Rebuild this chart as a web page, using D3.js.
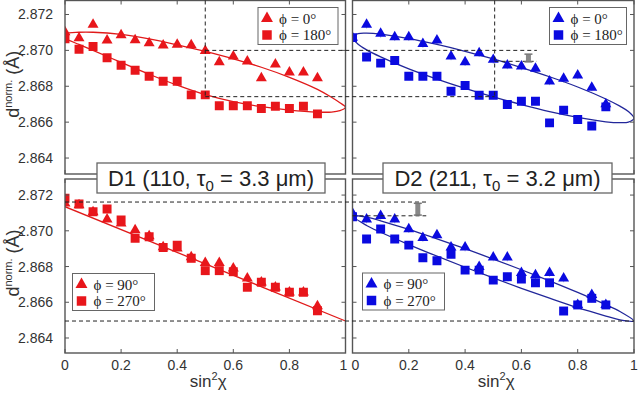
<!DOCTYPE html>
<html><head><meta charset="utf-8">
<script src="https://cdn.jsdelivr.net/npm/d3@7"></script>
<style>body{margin:0;background:#fff}svg{display:block}</style>
</head><body><svg id="c" width="640" height="393"></svg>
<script>
// ---------- data ----------
const sinTicks = [0, 0.2, 0.4, 0.6, 0.8, 1];
const sinTickLabels = ["0", "0.2", "0.4", "0.6", "0.8", "1"];
const dTicks = [2.864, 2.866, 2.868, 2.870, 2.872];
const dTickLabels = ["2.864", "2.866", "2.868", "2.870", "2.872"];
const sin2 = [0,0.05,0.1,0.15,0.2,0.25,0.3,0.35,0.4,0.45,0.5,0.55,0.6,0.65,0.7,0.75,0.8,0.85,0.9];

const D1_phi0   = [2.87102,2.87068,2.87144,2.87056,2.87085,2.87057,2.87041,2.87028,2.87032,2.87030,2.86998,2.86935,2.86967,2.86939,2.86846,2.86922,2.86878,2.86878,2.86846];
const D1_phi180 = [2.87065,2.87006,2.87022,2.86959,2.86917,2.86889,2.86856,2.86828,2.86828,2.86752,2.86752,2.86691,2.86691,2.86691,2.86676,2.86689,2.86676,2.86689,2.86646];
const D2_phi0   = [2.87071,2.87144,2.87093,2.87074,2.87074,2.87037,2.87056,2.86967,2.86935,2.86985,2.86948,2.86917,2.86911,2.86898,2.86828,2.86843,2.86861,2.86793,2.86700];
const D2_phi180 = [2.87071,2.86963,2.86929,2.86944,2.86856,2.86856,2.86856,2.86772,2.86804,2.86750,2.86750,2.86698,2.86717,2.86717,2.86596,2.86667,2.86615,2.86578,2.86685];
const D1_phi90  = [2.87154,2.87144,2.87105,2.87064,2.87042,2.87004,2.86971,2.86909,2.86902,2.86853,2.86821,2.86821,2.86790,2.86734,2.86712,2.86684,2.86656,2.86656,2.86579];
const D1_phi270 = [2.87182,2.87150,2.87107,2.87122,2.87060,2.86958,2.86967,2.86907,2.86920,2.86846,2.86777,2.86777,2.86771,2.86684,2.86712,2.86684,2.86656,2.86656,2.86553];
const D2_phi90  = [2.87098,2.87064,2.87084,2.87064,2.87010,2.86961,2.86976,2.86907,2.86907,2.86799,2.86851,2.86851,2.86765,2.86752,2.86765,2.86734,2.86585,2.86641,2.86585];
const D2_phi270 = [2.87079,2.86954,2.87010,2.86954,2.86920,2.86849,2.86832,2.86868,2.86780,2.86780,2.86724,2.86743,2.86730,2.86709,2.86709,2.86551,2.86585,2.86622,2.86585];

// fitted curves, [sin2chi, d]
const D1_fit_0_180 = [[-0.01,2.87081],[0,2.87094],[0.05,2.87101],[0.1,2.87101],[0.2,2.87089],[0.3,2.87064],[0.4,2.87031],[0.5,2.86994],[0.6,2.86953],[0.7,2.86906],[0.8,2.86850],[0.9,2.86783],[0.95,2.86739],[0.98,2.86708],[1.0,2.86683],
  [0.98,2.86664],[0.95,2.86656],[0.9,2.86656],[0.8,2.86667],[0.7,2.86686],[0.6,2.86714],[0.5,2.86753],[0.4,2.86806],[0.3,2.86867],[0.2,2.86933],[0.1,2.87000],[0.05,2.87033],[0,2.87067]];
const D2_fit_0_180 = [[0,2.87072],[0.02,2.87093],[0.05,2.87096],[0.1,2.87091],[0.2,2.87066],[0.3,2.87033],[0.4,2.86995],[0.5,2.86952],[0.6,2.86904],[0.7,2.86853],[0.8,2.86796],[0.9,2.86729],[0.95,2.86689],[0.98,2.86659],[1.0,2.86621],
  [0.98,2.86600],[0.95,2.86597],[0.9,2.86602],[0.8,2.86627],[0.7,2.86659],[0.6,2.86698],[0.5,2.86741],[0.4,2.86788],[0.3,2.86840],[0.2,2.86897],[0.1,2.86964],[0.05,2.87003],[0.02,2.87034]];
const D1_fit_90_270 = [[0,2.87135],[1,2.86495]];
const D2_fit_90_270 = [[0,2.87083],[0.05,2.87076],[0.1,2.87056],[0.2,2.87008],[0.3,2.86955],[0.4,2.86900],[0.5,2.86842],[0.6,2.86782],[0.7,2.86720],[0.8,2.86655],[0.9,2.86586],[0.95,2.86548],[1.0,2.86495],
  [0.95,2.86501],[0.9,2.86523],[0.8,2.86570],[0.7,2.86623],[0.6,2.86678],[0.5,2.86736],[0.4,2.86796],[0.3,2.86858],[0.2,2.86923],[0.1,2.86992],[0.05,2.87030]];

// ---------- layout ----------
const svg = d3.select("#c");
const cols = [[65, 345.5], [352.5, 634]];
const rows = [{r:[174, 0.5], dom:[2.86311, 2.87278]}, {r:[353, 179], dom:[2.86316, 2.8729]}];
const xs = cols.map(c => d3.scaleLinear().domain([0, 1]).range(c));
const ys = rows.map(r => d3.scaleLinear().domain(r.dom).range(r.r));
const RED = "#e8161b", REDL = "#e01a1a", BLUE = "#0a0ae0", BLUEL = "#22279a";
const sans = "'Liberation Sans Narrow','Liberation Sans',Arial,sans-serif";
const serif = "'Liberation Serif','DejaVu Serif',serif";

const panels = [
  {c:0, r:0, a:D1_phi0, b:D1_phi180, fit:D1_fit_0_180, closed:true, col:RED, lcol:REDL, leg:["0°","180°"], legPos:[258,7.5], eb:false},
  {c:1, r:0, a:D2_phi0, b:D2_phi180, fit:D2_fit_0_180, closed:true, col:BLUE, lcol:BLUEL, leg:["0°","180°"], legPos:[549.5,7.5], eb:true},
  {c:0, r:1, a:D1_phi90, b:D1_phi270, fit:D1_fit_90_270, closed:false, col:RED, lcol:REDL, leg:["90°","270°"], legPos:[72.5,273.5], eb:false},
  {c:1, r:1, a:D2_phi90, b:D2_phi270, fit:D2_fit_90_270, closed:true, col:BLUE, lcol:BLUEL, leg:["90°","270°"], legPos:[362.5,273], eb:true}
];

const tri = d3.symbol(d3.symbolTriangle, 52)();
const sq = d3.symbol(d3.symbolSquare, 80)();
const triL = d3.symbol(d3.symbolTriangle, 62)();
const sqL = d3.symbol(d3.symbolSquare, 90)();

panels.forEach((p, i) => {
  const x = xs[p.c], y = ys[p.r];
  const [x0, x1] = x.range(), [y1, y0] = y.range();
  const g = svg.append("g");
  const cid = "clip" + i;
  svg.append("clipPath").attr("id", cid).append("rect")
    .attr("x", x0).attr("y", y0).attr("width", x1 - x0).attr("height", y1 - y0);
  const inner = g.append("g").attr("clip-path", `url(#${cid})`);
  if (p.eb) {
    [p.a, p.b].forEach(arr => {
      inner.selectAll(null).data(arr).enter().append("line")
        .attr("x1", (d, k) => x(sin2[k])).attr("x2", (d, k) => x(sin2[k]))
        .attr("y1", d => y(d + 0.00022)).attr("y2", d => y(d - 0.00022))
        .attr("stroke", "#a8acd8").attr("stroke-width", 1);
    });
  }
  const line = d3.line().x(d => x(d[0])).y(d => y(d[1]))
    .curve(p.closed ? d3.curveCatmullRomClosed.alpha(0.5) : d3.curveLinear);
  inner.append("path").attr("d", line(p.fit)).attr("fill", "none")
    .attr("stroke", p.lcol).attr("stroke-width", 1.3);
  inner.selectAll(null).data(p.a).enter().append("path").attr("d", tri)
    .attr("transform", (d, k) => `translate(${x(sin2[k])},${y(d)})`).attr("fill", p.col);
  inner.selectAll(null).data(p.b).enter().append("path").attr("d", sq)
    .attr("transform", (d, k) => `translate(${x(sin2[k])},${y(d)})`).attr("fill", p.col);
  g.append("rect").attr("x", x0).attr("y", y0).attr("width", x1 - x0).attr("height", y1 - y0)
    .attr("fill", "none").attr("stroke", "#555").attr("stroke-width", 1.4);
  sinTicks.forEach(t => {
    [[y1, -4], [y0, 4]].forEach(([yy, dd]) =>
      g.append("line").attr("x1", x(t)).attr("x2", x(t)).attr("y1", yy).attr("y2", yy + dd)
        .attr("stroke", "#555").attr("stroke-width", 1));
  });
  dTicks.forEach(t => {
    [[x0, 4], [x1, -4]].forEach(([xx, dd]) =>
      g.append("line").attr("x1", xx).attr("x2", xx + dd).attr("y1", y(t)).attr("y2", y(t))
        .attr("stroke", "#555").attr("stroke-width", 1));
  });
  if (p.c === 0) {
    g.selectAll(null).data(dTicks).enter().append("text")
      .attr("x", 53).attr("y", d => y(d) + 5).attr("text-anchor", "end")
      .attr("font-family", sans).attr("font-size", 14).attr("fill", "#333")
      .text((d, k) => dTickLabels[k]);
    const yl = g.append("text").attr("transform", `translate(19,${(y0 + y1) / 2 - 3}) rotate(-90)`)
      .attr("text-anchor", "middle").attr("font-family", sans).attr("font-size", 18).attr("fill", "#333");
    yl.append("tspan").text("d");
    yl.append("tspan").attr("dy", -7).attr("font-size", 11).text("norm.");
    yl.append("tspan").attr("dy", 7).text(" (Å)");
  }
  if (p.r === 1) {
    g.selectAll(null).data(sinTicks).enter().append("text")
      .attr("x", d => x(d) + (d === 1 && p.c === 0 ? -2 : (d === 0 && p.c === 1 ? 3 : 0)))
      .attr("y", 370).attr("text-anchor", "middle")
      .attr("font-family", sans).attr("font-size", 14).attr("fill", "#333")
      .text((d, k) => sinTickLabels[k]);
    const xl = g.append("text").attr("x", (x0 + x1) / 2 + 3).attr("y", 387).attr("text-anchor", "middle")
      .attr("font-family", sans).attr("font-size", 17).attr("fill", "#333");
    xl.append("tspan").text("sin");
    xl.append("tspan").attr("dy", -7).attr("font-size", 11).text("2");
    xl.append("tspan").attr("dy", 7).text("χ");
  }
  const [lx, ly] = p.legPos;
  const lg = g.append("g");
  lg.append("rect").attr("x", lx).attr("y", ly).attr("width", p.c === 0 && p.r === 0 ? 80 : (p.r === 0 ? 77 : 82))
    .attr("height", 37).attr("fill", "#fff").attr("stroke", "#666").attr("stroke-width", 1);
  [triL, sqL].forEach((sym, k) => {
    lg.append("path").attr("d", sym).attr("transform", `translate(${lx + 9},${ly + 11 + k * 16.5})`).attr("fill", p.col);
    lg.append("text").attr("x", lx + 21).attr("y", ly + 16 + k * 16.5)
      .attr("font-family", serif).attr("font-size", 15).attr("fill", "#222")
      .text(`ϕ = ${p.leg[k]}`);
  });
});

const dash = svg.append("g").attr("stroke", "#222").attr("stroke-width", 1).attr("stroke-dasharray", "4,3").attr("fill", "none");
const seg = (xa, ya, xb, yb) => dash.append("line").attr("x1", xa).attr("y1", ya).attr("x2", xb).attr("y2", yb);
seg(xs[0](0.5), ys[0](2.87278), xs[0](0.5), ys[0](2.86742));
seg(xs[0](0.5), ys[0](2.870), xs[1](0.655), ys[0](2.870));
seg(xs[0](0.5), ys[0](2.86742), xs[1](0.505), ys[0](2.86742));
seg(xs[1](0.505), ys[0](2.87278), xs[1](0.505), ys[0](2.86742));
seg(xs[1](0.505), ys[0](2.86939), xs[1](0.655), ys[0](2.86939));
seg(xs[0](0), ys[1](2.87161), xs[1](0.262), ys[1](2.87161));
seg(xs[0](0), ys[1](2.86495), xs[1](1), ys[1](2.86495));
seg(xs[1](0), ys[1](2.87084), xs[1](0.262), ys[1](2.87084));

const grayBars = [{c:1, r:0, s:0.625, lo:2.86936, hi:2.86979}, {c:1, r:1, s:0.232, lo:2.87088, hi:2.87154}];
grayBars.forEach(b => {
  const xx = xs[b.c](b.s), ya = ys[b.r](b.hi), yb = ys[b.r](b.lo);
  svg.append("line").attr("x1", xx).attr("x2", xx).attr("y1", ya).attr("y2", yb).attr("stroke", "#888").attr("stroke-width", 5);
  [ya, yb].forEach(yy => svg.append("line").attr("x1", xx - 4).attr("x2", xx + 4).attr("y1", yy).attr("y2", yy).attr("stroke", "#777").attr("stroke-width", 1.5));
});

const titles = [{c:0, x:[97, 325], main:"D1 (110, τ", sub:"0", rest:" = 3.3 μm)"}, {c:1, x:[383, 612], main:"D2 (211, τ", sub:"0", rest:" = 3.2 μm)"}];
titles.forEach(t => {
  svg.append("rect").attr("x", t.x[0]).attr("y", 163).attr("width", t.x[1] - t.x[0]).attr("height", 30)
    .attr("fill", "#fff").attr("stroke", "#666").attr("stroke-width", 1.3);
  const tx = svg.append("text").attr("x", (t.x[0] + t.x[1]) / 2).attr("y", 186).attr("text-anchor", "middle")
    .attr("font-family", "'Liberation Sans',Arial,sans-serif").attr("font-size", 22).attr("fill", "#222");
  tx.append("tspan").text(t.main);
  tx.append("tspan").attr("dy", 5).attr("font-size", 15).text(t.sub);
  tx.append("tspan").attr("dy", -5).text(t.rest);
});
</script></body></html>
